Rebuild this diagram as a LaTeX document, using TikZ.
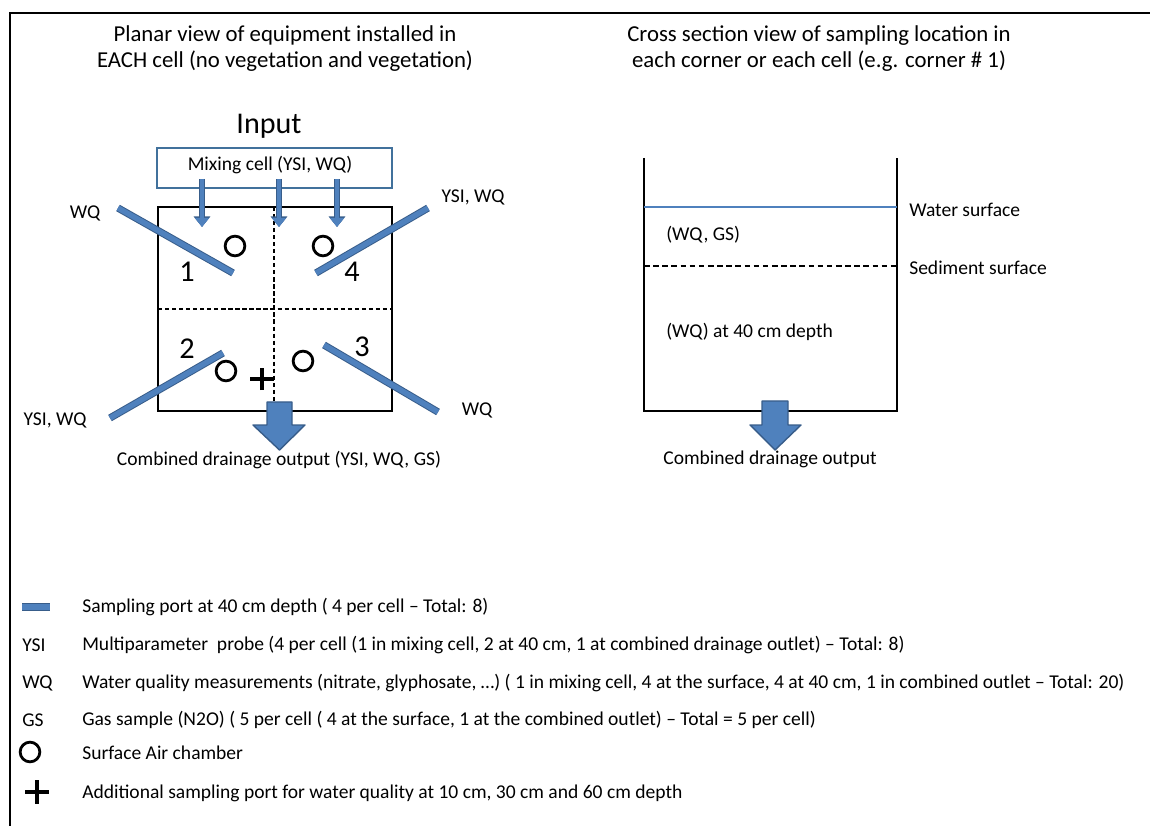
\documentclass[tikz,border=0pt]{standalone}
\usepackage{fontspec}
\setmainfont{Carlito}
\usetikzlibrary{arrows.meta, positioning}
\definecolor{portblue}{HTML}{4F81BD}
\definecolor{portedge}{HTML}{385D8A}
\definecolor{mixedge}{HTML}{41719C}

\begin{document}
\begin{tikzpicture}[
    x=0.025cm, y=-0.025cm,
    title/.style={align=center, font=\fontsize{16.2}{18.5}\selectfont},
    txt/.style={font=\fontsize{13.9}{16}\selectfont, inner sep=0pt},
    num/.style={font=\fontsize{21.5}{24}\selectfont, inner sep=0pt},
    port/.style={draw=portblue, line width=3.8pt,
        preaction={draw=portedge, line width=5.2pt}},
    feed/.style={draw=portblue, line width=2.8pt,
        -{Triangle[width=10pt,length=6.5pt]},
        preaction={draw=portedge, line width=3.8pt,
            -{Triangle[width=11.5pt,length=7.5pt]}}},
    drain/.style={fill=portblue, draw=portedge, line width=1pt, line join=round},
    chamber/.style={circle, draw, line width=2pt, minimum size=14pt, inner sep=0pt},
    wall/.style={line width=1.9pt},
    divider/.style={line width=0.9pt, dash pattern=on 3pt off 2pt}]
    \useasboundingbox (0,0) rectangle (1150,826);
    \draw [line width=1.8pt] (10,826) -- (10,13) -- (1150,13);
    % titles
    \node [title] (tleft) at (285,48.5)
        {Planar view of equipment installed in\\EACH cell (no vegetation and vegetation)};
    \node [title] (tright) at (819,48.5)
        {Cross section view of sampling location in\\each corner or each cell (e.g. corner \# 1)};
    % planar view
    \node [font=\fontsize{21.4}{24}\selectfont] (input) at (269,126) {Input};
    \node [draw=mixedge, line width=1.4pt, minimum width=167pt, minimum height=28pt,
        txt] (mix) at (274.5,168) {};
    \node [txt] (mixlabel) at (270,165) {Mixing cell (YSI, WQ)};
    \draw [wall] (158,207) rectangle (392,411);
    \coordinate (mid) at (274,207);
    \coordinate (low) at (274,411);
    \draw [divider] (mid) -- (low);
    \draw [divider] (158,309) -- (392,309);
    \coordinate (f1) at (202,227);
    \coordinate (f2) at (279,227);
    \coordinate (f3) at (337,227);
    \foreach \f in {f1,f2,f3}
        \draw [feed] ([yshift=7pt]\f |- mix.south) -- (\f);
    \coordinate (p1a) at (118,208);
    \coordinate (p1b) at (233,273);
    \coordinate (p4a) at (316,273);
    \coordinate (p4b) at (428,208);
    \coordinate (p2a) at (110,418);
    \coordinate (p2b) at (223,353);
    \coordinate (p3a) at (324,345);
    \coordinate (p3b) at (438,412);
    \foreach \p in {p1,p2,p3,p4}
        \draw [port] (\p a) -- (\p b);
    \node [chamber] (c1) at (235,246) {};
    \node [chamber] (c4) at (323,246) {};
    \node [chamber] (c2) at (226,371) {};
    \node [chamber] (c3) at (303,361) {};
    \coordinate (plus) at (262,379);
    \draw [line width=2.4pt] ([xshift=-8.5pt]plus) -- ([xshift=8.5pt]plus)
        ([yshift=-8pt]plus) -- ([yshift=8pt]plus);
    \node [num] (n1) at (187,272) {1};
    \node [num] (n4) at (352,272) {4};
    \node [num] (n2) at (187,349) {2};
    \node [num] (n3) at (362,347) {3};
    \node [txt] (l1) at (85,213) {WQ};
    \node [txt] (l4) at (473,197) {YSI, WQ};
    \node [txt] (l2) at (55,420) {YSI, WQ};
    \node [txt] (l3) at (477,410) {WQ};
    \draw [drain] (267,402) -- (292,402) -- (292,425) -- (305,425) -- (279.5,450)
        -- (253,425) -- (267,425) -- cycle;
    \node [txt] (outleft) at (279,460) {Combined drainage output (YSI, WQ, GS)};
    % cross section
    \draw [line width=1.1pt] (644,158) -- (644,411) -- (897,411) -- (897,158);
    \coordinate (ws) at (644,207);
    \coordinate (ss) at (644,266);
    \draw [portblue, line width=0.8pt] (ws) -- (ws -| 897,0);
    \draw [line width=1.1pt, dash pattern=on 4pt off 2.5pt] (ss) -- (ss -| 897,0);
    \node [txt, anchor=west] (water) at (909,210) {Water surface};
    \node [txt, anchor=west] (sed) at (909,268) {Sediment surface};
    \node [txt, anchor=west] (upper) at (666,235) {(WQ, GS)};
    \node [txt, anchor=west] (deep) at (666,332) {(WQ) at 40 cm depth};
    \draw [drain] (762,401) -- (788,401) -- (788,425) -- (801,425) -- (775,450)
        -- (750,425) -- (762,425) -- cycle;
    \node [txt] (outright) at (770,459) {Combined drainage output};
    % legend
    \draw [port] (22,607) -- (50,607);
    \node [txt, anchor=west] (k1) at (82,607)
        {Sampling port at 40 cm depth ( 4 per cell -- Total: 8)};
    \node [txt, anchor=west] (ysi) at (22,645) {YSI};
    \node [txt, anchor=west] (k2) at (82,645)
        {Multiparameter\ \ probe (4 per cell (1 in mixing cell, 2 at 40 cm, 1 at combined drainage outlet) -- Total: 8)};
    \node [txt, anchor=west] (wq) at (22,683) {WQ};
    \node [txt, anchor=west] (k3) at (82,683)
        {Water quality measurements (nitrate, glyphosate, \dots) ( 1 in mixing cell, 4 at the surface, 4 at 40 cm, 1 in combined outlet -- Total: 20)};
    \node [txt, anchor=west] (gs) at (22,720) {GS};
    \node [txt, anchor=west] (k4) at (82,720)
        {Gas sample (N2O) ( 5 per cell ( 4 at the surface, 1 at the combined outlet) -- Total = 5 per cell)};
    \node [chamber] (kc) at (30,752) {};
    \node [txt, anchor=west] (k5) at (82,753) {Surface Air chamber};
    \coordinate (kp) at (37,792);
    \draw [line width=2.4pt] ([xshift=-8.5pt]kp) -- ([xshift=8.5pt]kp)
        ([yshift=-8.5pt]kp) -- ([yshift=8.5pt]kp);
    \node [txt, anchor=west] (k6) at (82,793)
        {Additional sampling port for water quality at 10 cm, 30 cm and 60 cm depth};
\end{tikzpicture}
\end{document}
